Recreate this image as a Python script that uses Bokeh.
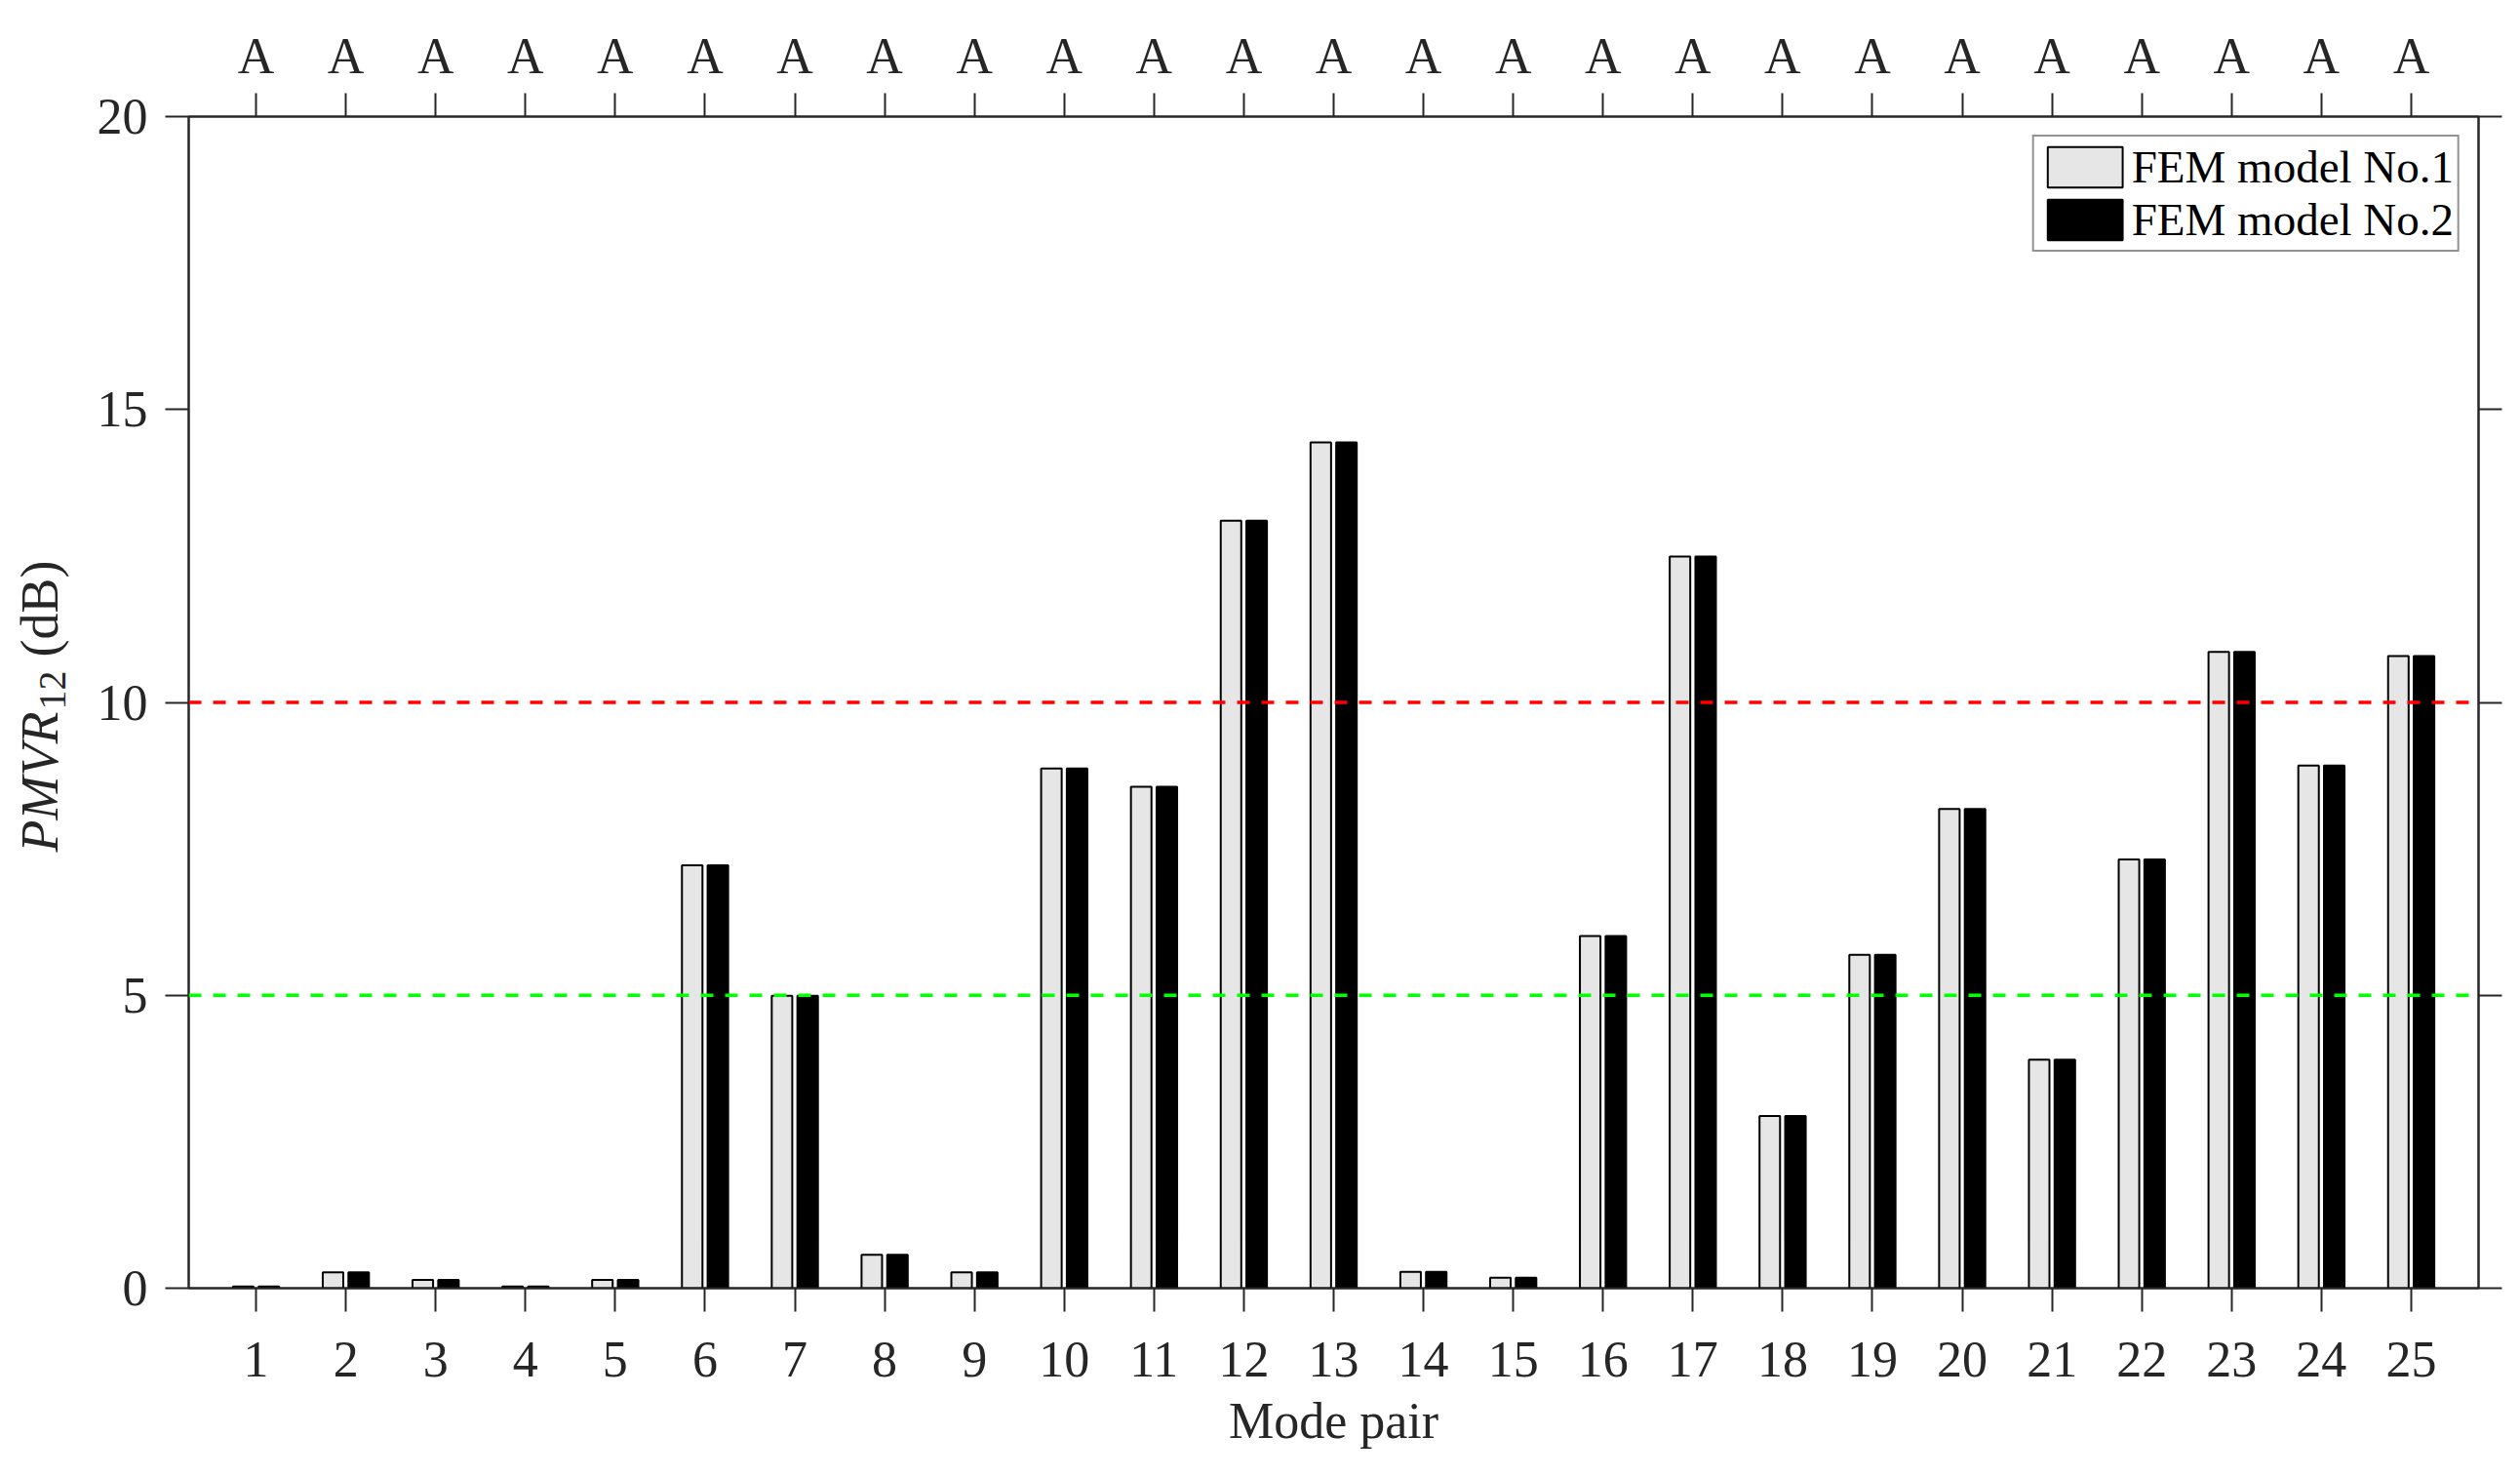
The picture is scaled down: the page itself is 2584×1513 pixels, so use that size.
from math import pi
from bokeh.plotting import figure
from bokeh.layouts import row
from bokeh.core.properties import value
from bokeh.models import (ColumnDataSource, Range1d, FixedTicker, LinearAxis, Span,
                          Legend, LegendItem)
from bokeh.transform import dodge
from bokeh.embed import file_html
from bokeh.resources import INLINE

# ---------------- data ----------------
modes = list(range(1, 26))
x_labels = [str(m) for m in modes]
top_labels = ["A"] * 25
fem1 = [0.03, 0.27, 0.14, 0.03, 0.14, 7.22, 4.99, 0.57, 0.27, 8.87,
        8.56, 13.10, 14.44, 0.28, 0.18, 6.01, 12.49, 2.94, 5.69, 8.18,
        3.90, 7.32, 10.86, 8.92, 10.79]
fem2 = [0.03, 0.27, 0.14, 0.03, 0.14, 7.22, 4.99, 0.57, 0.27, 8.87,
        8.56, 13.10, 14.44, 0.28, 0.18, 6.01, 12.49, 2.94, 5.69, 8.18,
        3.90, 7.32, 10.86, 8.92, 10.79]
series_names = ["FEM model No.1", "FEM model No.2"]
y_ticks = [0, 5, 10, 15, 20]
upper_threshold = 10
lower_threshold = 5
y_label_parts = ["PMVR", "12", "(dB)"]
x_label = "Mode pair"

FONT = "Liberation Serif"
AX = "#262626"

LAB_W = 80
FRAME_W, FRAME_H = 2348, 1201
TOP_B, BOT_B = 119, 185

src = ColumnDataSource(dict(mode=modes, fem1=fem1, fem2=fem2))

p = figure(frame_width=FRAME_W, frame_height=FRAME_H,
           min_border_left=193 - LAB_W, min_border_right=35,
           min_border_top=TOP_B, min_border_bottom=BOT_B,
           x_range=Range1d(0.25, 25.75), y_range=Range1d(0, 20),
           x_axis_location=None, y_axis_location=None,
           output_backend="svg", toolbar_location=None)
p.xgrid.visible = False
p.ygrid.visible = False
p.outline_line_color = AX
p.outline_line_width = 2
p.background_fill_color = "white"
p.border_fill_color = "white"

r1 = p.vbar(x=dodge("mode", -0.1429), top="fem1", width=0.2286, bottom=0, source=src,
            fill_color="#e6e6e6", line_color="black", line_width=2)
r2 = p.vbar(x=dodge("mode", 0.1429), top="fem2", width=0.2286, bottom=0, source=src,
            fill_color="black", line_color="black", line_width=2)

p.add_layout(Span(location=upper_threshold, dimension="width", line_color="#ff0000",
                  line_width=3.5, line_dash="13 12"))
p.add_layout(Span(location=lower_threshold, dimension="width", line_color="#00ff00",
                  line_width=3.5, line_dash="13 12"))


def style(ax, standoff):
    ax.axis_line_color = AX
    ax.axis_line_width = 2
    ax.major_tick_line_color = AX
    ax.major_tick_line_width = 2
    ax.major_tick_out = 24
    ax.major_tick_in = 0
    ax.minor_tick_out = 0
    ax.minor_tick_in = 0
    ax.major_label_text_font = FONT
    ax.major_label_text_font_size = "52px"
    ax.major_label_text_color = AX
    ax.major_label_standoff = standoff


bottom = LinearAxis(ticker=FixedTicker(ticks=modes),
                    major_label_overrides={m: l for m, l in zip(modes, x_labels)},
                    axis_label=x_label)
style(bottom, 31)
bottom.axis_label_text_font = FONT
bottom.axis_label_text_font_size = "52px"
bottom.axis_label_text_font_style = "normal"
bottom.axis_label_text_color = AX
bottom.axis_label_standoff = 14
p.add_layout(bottom, "below")

top = LinearAxis(ticker=FixedTicker(ticks=modes),
                 major_label_overrides={m: l for m, l in zip(modes, top_labels)})
style(top, 10)
p.add_layout(top, "above")

left = LinearAxis(ticker=FixedTicker(ticks=y_ticks))
style(left, 18)
p.add_layout(left, "left")

right = LinearAxis(ticker=FixedTicker(ticks=y_ticks),
                   major_label_overrides={t: "" for t in y_ticks})
style(right, 0)
right.major_label_text_font_size = "0px"
p.add_layout(right, "right")

legend = Legend(items=[LegendItem(label=series_names[0], renderers=[r1]),
                       LegendItem(label=series_names[1], renderers=[r2])],
                location="top_right", margin=19, padding=4, spacing=0,
                glyph_width=96, glyph_height=52, label_height=50, label_standoff=0,
                label_text_font=FONT, label_text_font_size="47px",
                label_text_color="black", border_line_color=AX, border_line_width=2,
                background_fill_color="white", background_fill_alpha=1.0)
p.add_layout(legend)

# ---------- y-axis label panel: same vertical frame and y range as the chart ----------
lab = figure(frame_width=LAB_W, frame_height=FRAME_H,
             min_border_left=0, min_border_right=0,
             min_border_top=TOP_B, min_border_bottom=BOT_B,
             x_range=Range1d(0, LAB_W), y_range=Range1d(0, 20),
             x_axis_location=None, y_axis_location=None,
             output_backend="svg", toolbar_location=None)
lab.xgrid.visible = False
lab.ygrid.visible = False
lab.outline_line_color = None
lab.border_fill_color = "white"
lab.background_fill_color = "white"

common = dict(angle=pi / 2, text_baseline="alphabetic", text_align="left",
              text_font=value(FONT), text_color=AX)
lab.text(x=[40], y=[7.444], text=[y_label_parts[0]], text_font_style="italic",
         text_font_size="54px", **common)
lab.text(x=[53], y=[9.875], text=[y_label_parts[1]], text_font_size="40px", **common)
lab.text(x=[40], y=[10.774], text=[y_label_parts[2]], text_font_size="54px", **common)

layout = row(lab, p, spacing=0)

open("out.html", "w").write(file_html(layout, INLINE))
